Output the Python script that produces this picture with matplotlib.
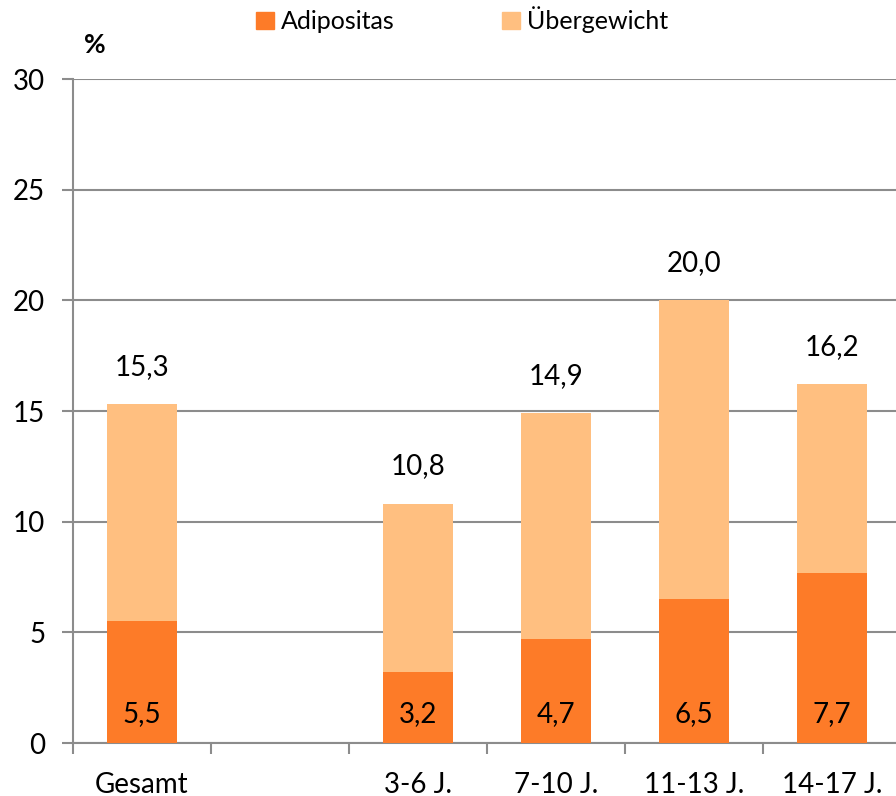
import numpy as np
import matplotlib
matplotlib.use("Agg")
from matplotlib import pyplot as plt
from matplotlib.patches import Patch

plt.rcParams['font.family'] = ['Lato', 'DejaVu Sans']

categories = ["Gesamt", "", "3-6 J.", "7-10 J.", "11-13 J.", "14-17 J."]
adipositas = [5.5, None, 3.2, 4.7, 6.5, 7.7]
gesamt_uebergewicht = [15.3, None, 10.8, 14.9, 20.0, 16.2]

col_adip = "#FD7B28"
col_ueber = "#FFBF80"
col_grid = "#8C8C8C"

fig = plt.figure(figsize=(8.96, 7.96), dpi=100)
ax = fig.add_axes([73 / 896, 53 / 796, 828 / 896, 664 / 796])

x = np.arange(len(categories))
width = 0.51
for i in x:
    if adipositas[i] is None:
        continue
    a = adipositas[i]
    tot = gesamt_uebergewicht[i]
    ax.bar(i, a, width, color=col_adip, zorder=3)
    ax.bar(i, tot - a, width, bottom=a, color=col_ueber, zorder=3)
    ax.text(i, 1.3, f"{a:.1f}".replace(".", ","), ha="center", va="center",
            fontsize=20, zorder=4)
    ax.text(i, tot + 1.7, f"{tot:.1f}".replace(".", ","), ha="center",
            va="center", fontsize=20, zorder=4)

ax.set_xlim(-0.5, len(categories) - 0.5)
ax.set_ylim(0, 30)
ax.set_yticks(range(0, 31, 5))
ax.yaxis.grid(True, color=col_grid, linewidth=1.5, zorder=1)
ax.set_axisbelow(True)

ax.set_xticks(x)
ax.set_xticklabels(categories)
ax.set_xticks(np.arange(-0.5, len(categories), 1), minor=True)
ax.tick_params(axis="x", which="major", length=0, pad=30, labelsize=20)
ax.tick_params(axis="x", which="minor", length=8, width=1.5, color=col_grid)
ax.tick_params(axis="y", length=8, width=1.5, color=col_grid, labelsize=20,
               pad=12)
for lbl in ax.get_xticklabels():
    lbl.set_verticalalignment("center")

for side in ["top", "right"]:
    ax.spines[side].set_visible(False)
for side in ["left", "bottom"]:
    ax.spines[side].set_color(col_grid)
    ax.spines[side].set_linewidth(1.5)

fig.text(95 / 896, 1 - 45 / 796, "%", fontsize=19, fontweight="bold",
         ha="center", va="center")

handles = [Patch(color=col_adip, label="Adipositas"),
           Patch(color=col_ueber, label="Übergewicht")]
fig.legend(handles=handles, loc="center", bbox_to_anchor=(0.516, 1 - 20 / 796),
           ncol=2, frameon=False, fontsize=18, handlelength=0.7,
           handleheight=0.7, handletextpad=0.3, columnspacing=4.3)

fig.savefig("out.png", dpi=100)
